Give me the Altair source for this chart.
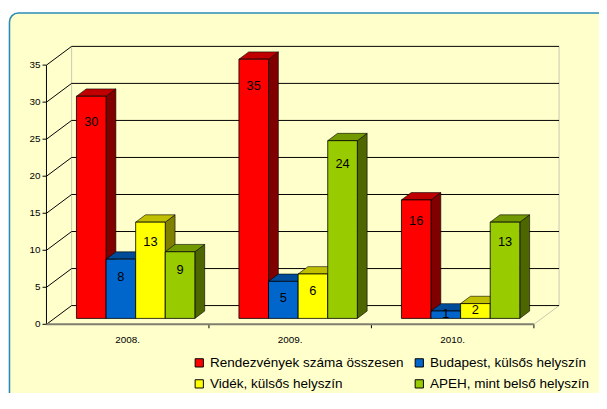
import altair as alt
import pandas as pd

# ---------------- data ----------------
years = ["2008.", "2009.", "2010."]
series = [
    "Rendezvények száma összesen",
    "Budapest, külsős helyszín",
    "Vidék, külsős helyszín",
    "APEH, mint belső helyszín",
]
values_2008 = [30, 8, 13, 9]
values_2009 = [35, 5, 6, 24]
values_2010 = [16, 1, 2, 13]
y_ticks = [0, 5, 10, 15, 20, 25, 30, 35]

front_colors = ["#FF0000", "#0066CC", "#FFFF00", "#99CC00"]
top_colors = ["#C00000", "#004C99", "#C0C000", "#739900"]
side_colors = ["#800000", "#00336A", "#808000", "#4D6600"]

# ---------------- layout (pixels) ----------------
W, H = 599, 385
X0 = 39.0          # front y-axis position
BAND = 164.67      # category band width
Y0 = 318.0         # front floor line
PPU = 7.506        # pixels per value unit
WALL_DX, WALL_DY = 25.5, 19.0
BAR_W = 30.0
FRONT_DEPTH = 0.316
BAR_DEPTH = 0.39

xmin, xmax = -X0 / BAND, (W - X0) / BAND
ymin, ymax = -(H - Y0) / PPU, Y0 / PPU
xs = alt.Scale(domain=[xmin, xmax], nice=False, zero=False)
ys = alt.Scale(domain=[ymin, ymax], nice=False, zero=False)

DXu = WALL_DX / BAND
DYv = WALL_DY / PPU
bw = BAR_W / BAND
vmax = max(y_ticks)
FONT = "Liberation Sans"

# ---------------- tables ----------------
fronts, tops, sides = [], [], []
all_vals = [values_2008, values_2009, values_2010]
for i, vals in enumerate(all_vals):
    for j, v in enumerate(vals):
        x0 = i + 0.5 - 2 * bw + j * bw + FRONT_DEPTH * DXu
        x1 = x0 + bw
        base = FRONT_DEPTH * DYv
        top = base + v
        ddx, ddy = BAR_DEPTH * DXu, BAR_DEPTH * DYv
        key = f"k{i}{j}"
        lab = top - min(0.45 * v, 2.1 + 0.045 * v)
        fronts.append(dict(series=series[j], x0=x0, x1=x1, base=base, top=top,
                           xc=(x0 + x1) / 2, lab=lab, txt=str(v)))
        tops.append(dict(key=key, ty=top, tx=x0, tx2=x1, col=top_colors[j]))
        tops.append(dict(key=key, ty=top + ddy, tx=x0 + ddx, tx2=x1 + ddx, col=top_colors[j]))
        sides.append(dict(key=key, sx=x1, sy=base, sy2=top, col=side_colors[j]))
        sides.append(dict(key=key, sx=x1 + ddx, sy=base + ddy, sy2=top + ddy, col=side_colors[j]))

fronts = pd.DataFrame(fronts)
tops = pd.DataFrame(tops)
sides = pd.DataFrame(sides)

ncat = len(years)
grid = pd.DataFrame([dict(x=DXu, x2=ncat + DXu, y=t + DYv, y2=t + DYv) for t in y_ticks])
diag = pd.DataFrame([dict(x=0, x2=DXu, y=t, y2=t + DYv) for t in y_ticks])
light = pd.DataFrame([
    dict(x=DXu, x2=DXu, y=DYv, y2=vmax + DYv),
    dict(x=ncat + DXu, x2=ncat + DXu, y=DYv, y2=vmax + DYv),
    dict(x=ncat, x2=ncat + DXu, y=0, y2=DYv),
])
floor = pd.DataFrame([dict(x=0, x2=ncat, y=0, y2=0)])
yaxis = pd.DataFrame([dict(x=0, x2=0, y=0, y2=vmax)])
yticks = pd.DataFrame([dict(x=-4 / BAND, x2=0, y=t, y2=t, lab=str(t)) for t in y_ticks])
xticks = pd.DataFrame([dict(x=k, x2=k, y=0, y2=-4 / PPU) for k in range(1, ncat + 1)])
xlabels = pd.DataFrame([dict(x=i + 0.5, y=-16 / PPU, lab=yr) for i, yr in enumerate(years)])


def rules(df, color, width=1.0):
    return alt.Chart(df).mark_rule(color=color, strokeWidth=width).encode(
        x=alt.X("x:Q", scale=xs, axis=None), x2="x2:Q",
        y=alt.Y("y:Q", scale=ys, axis=None), y2="y2:Q")


frame = alt.Chart(pd.DataFrame({"a": [0]})).mark_rect(
    cornerRadius=9, fill="#FFFFCC", stroke="#2A8DB5", strokeWidth=1.6
).encode(x=alt.value(1.5), y=alt.value(2.5), x2=alt.value(W + 30), y2=alt.value(H + 30))

ytick_labels = alt.Chart(yticks).mark_text(
    align="right", baseline="middle", dx=-2, font=FONT, fontSize=10, color="#000000"
).encode(x=alt.X("x:Q", scale=xs, axis=None), y=alt.Y("y:Q", scale=ys, axis=None), text="lab:N")

xlab = alt.Chart(xlabels).mark_text(
    align="center", baseline="middle", font=FONT, fontSize=10, color="#000000"
).encode(x=alt.X("x:Q", scale=xs, axis=None), y=alt.Y("y:Q", scale=ys, axis=None), text="lab:N")

side_layer = alt.Chart(sides).mark_area(
    orient="vertical", interpolate="linear", opacity=1, stroke="#000000", strokeWidth=0.6
).encode(
    x=alt.X("sx:Q", scale=xs, axis=None),
    y=alt.Y("sy:Q", scale=ys, axis=None, stack=None), y2="sy2:Q",
    detail="key:N", color=alt.Color("col:N", scale=None))

top_layer = alt.Chart(tops).mark_area(
    orient="horizontal", interpolate="linear", opacity=1, stroke="#000000", strokeWidth=0.6
).encode(
    y=alt.Y("ty:Q", scale=ys, axis=None),
    x=alt.X("tx:Q", scale=xs, axis=None, stack=None), x2="tx2:Q",
    detail="key:N", color=alt.Color("col:N", scale=None))

front_layer = alt.Chart(fronts).mark_rect(stroke="#000000", strokeWidth=0.8).encode(
    x=alt.X("x0:Q", scale=xs, axis=None), x2="x1:Q",
    y=alt.Y("base:Q", scale=ys, axis=None), y2="top:Q",
    color=alt.Color("series:N", scale=alt.Scale(domain=series, range=front_colors),
                    legend=alt.Legend(
                        orient="none", legendX=187, legendY=350, columns=2, direction="horizontal",
                        title=None, symbolType="square", symbolSize=70,
                        symbolStrokeColor="#000000", symbolStrokeWidth=1,
                        labelFont=FONT, labelFontSize=13.7, labelColor="#000000",
                        labelLimit=400, columnPadding=9, rowPadding=6.5, labelOffset=4,
                        padding=0)))

bar_labels = alt.Chart(fronts).mark_text(
    align="center", baseline="middle", font=FONT, fontSize=13, color="#000000"
).encode(x=alt.X("xc:Q", scale=xs, axis=None), y=alt.Y("lab:Q", scale=ys, axis=None), text="txt:N")

chart = alt.layer(
    frame,
    rules(light, "#C8C8B0"),
    rules(grid, "#000000"),
    rules(diag, "#000000"),
    rules(yaxis, "#000000"),
    rules(yticks, "#000000"),
    rules(xticks, "#000000"),
    rules(floor, "#7F7F70", 2),
    ytick_labels,
    xlab,
    side_layer,
    top_layer,
    front_layer,
    bar_labels,
).properties(
    width=W, height=H, padding=0, autosize=alt.AutoSizeParams(type="none"),
    background="#FFFFFF",
).configure_view(stroke=None)

chart.save("out.html", embed_options={"renderer": "svg", "actions": False})
